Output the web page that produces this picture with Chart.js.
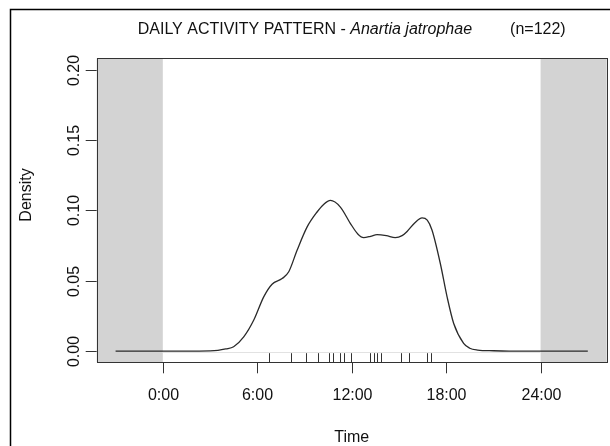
<!DOCTYPE html>
<html>
<head>
<meta charset="utf-8">
<script src="https://cdn.jsdelivr.net/npm/chart.js@4"></script>
<style>
body{margin:0;background:#fff;}
</style>
</head>
<body>
<canvas id="densityChart" width="610" height="446"></canvas>
<script>
// DATA

const curveHours = [-3,0,2,3,3.5,4,4.5,5.14,5.78,6.41,6.94,7.58,8,8.53,9.17,9.8,10.2,10.65,11.28,11.92,12.4,12.76,13.2,13.61,14.2,14.77,15.2,15.52,16,16.47,16.8,17.1,17.63,18.06,18.48,19.11,19.5,20,21,22,27];
const curveDensity = [0,0,0,0.0001,0.0005,0.0015,0.003,0.010,0.022,0.0385,0.0475,0.0515,0.0563,0.0716,0.0882,0.0988,0.104,0.107,0.1023,0.0906,0.083,0.0806,0.0815,0.0827,0.082,0.0806,0.082,0.085,0.091,0.0946,0.093,0.086,0.0622,0.0385,0.0196,0.0055,0.002,0.0007,0.0002,0,0];

const rugHours = [6.73,8.17,9.12,9.84,10.54,10.79,11.24,11.49,11.96,13.19,13.4,13.61,13.86,15.14,15.62,16.79,17.06];

const xTicks = [0,6,12,18,24];
const xTickLabels = ["0:00","6:00","12:00","18:00","24:00"];
const yTicks = [0,0.05,0.1,0.15,0.2];
const yTickLabels = ["0.00","0.05","0.10","0.15","0.20"];

const dayStart = 0;
const dayEnd = 24;

const FONT = '"Liberation Sans", Arial, sans-serif';

// R STYLE FRAME, AXES, RUG

const rStyle = {
id:"rStyle",
beforeDraw(chart){
const c = chart.ctx;
c.save();
c.fillStyle="#fff";
c.fillRect(0,0,chart.width,chart.height);
c.strokeStyle="#000";
c.lineWidth=1.5;
c.beginPath();
c.moveTo(10.5,chart.height);
c.lineTo(10.5,9.5);
c.lineTo(chart.width,9.5);
c.stroke();
c.restore();
},
beforeDatasetsDraw(chart){
const c = chart.ctx;
const a = chart.chartArea;
const x = chart.scales.x;
const y = chart.scales.y;
const x0 = x.getPixelForValue(dayStart);
const x1 = x.getPixelForValue(dayEnd);
c.save();
c.fillStyle="#d3d3d3";
c.fillRect(a.left,a.top,x0-a.left,a.bottom-a.top);
c.fillRect(x1,a.top,a.right-x1,a.bottom-a.top);
// faint zero line
let yz = Math.round(y.getPixelForValue(0))+1.5;
c.strokeStyle="#e2e2e2";
c.lineWidth=1;
c.beginPath();
c.moveTo(x0,yz);
c.lineTo(x1,yz);
c.stroke();
c.restore();
},
afterDatasetsDraw(chart){
const c = chart.ctx;
const a = chart.chartArea;
const x = chart.scales.x;
const y = chart.scales.y;
c.save();
c.strokeStyle="#333";
c.lineWidth=1;

// rug
let rugLen = (a.bottom-a.top)*0.03;
rugHours.forEach(h=>{
let px = Math.round(x.getPixelForValue(h))+0.5;
c.beginPath();
c.moveTo(px,a.bottom);
c.lineTo(px,a.bottom-rugLen);
c.stroke();
});

// box
c.strokeRect(Math.round(a.left)+0.5,Math.round(a.top)+0.5,Math.round(a.right-a.left),Math.round(a.bottom-a.top));

// x ticks
c.fillStyle="#111";
c.font="16px "+FONT;
c.textAlign="center";
c.textBaseline="middle";
xTicks.forEach((v,i)=>{
let px = Math.round(x.getPixelForValue(v))+0.5;
c.beginPath();
c.moveTo(px,a.bottom);
c.lineTo(px,a.bottom+11);
c.stroke();
c.fillText(xTickLabels[i],px,396);
});

// y ticks
yTicks.forEach((v,i)=>{
let py = Math.round(y.getPixelForValue(v))+0.5;
c.beginPath();
c.moveTo(a.left-11,py);
c.lineTo(a.left,py);
c.stroke();
c.save();
c.translate(75,py);
c.rotate(-Math.PI/2);
c.fillText(yTickLabels[i],0,0);
c.restore();
});

// axis titles
c.fillText("Time",(a.left+a.right)/2,438);
c.save();
c.translate(27,195);
c.rotate(-Math.PI/2);
c.fillText("Density",0,0);
c.restore();

// main title
const p1 = "DAILY ACTIVITY PATTERN - ";
const p2 = "Anartia jatrophae";
const p3 = "(n=122)";
const gap = 38;
c.font="16px "+FONT;
let w1 = c.measureText(p1).width;
let w3 = c.measureText(p3).width;
c.font="italic 16px "+FONT;
let w2 = c.measureText(p2).width;
let total = w1+w2+gap+w3;
let tx = (a.left+a.right)/2-total/2;
c.textAlign="left";
c.font="16px "+FONT;
c.fillText(p1,tx,30);
c.font="italic 16px "+FONT;
c.fillText(p2,tx+w1,30);
c.font="16px "+FONT;
c.fillText(p3,tx+w1+w2+gap,30);

c.restore();
}
};

// DENSITY CHART

new Chart(
document.getElementById("densityChart"),
{
type:"line",
data:{
datasets:[{
label:"Density",
data:curveHours.map((h,i)=>({x:h,y:curveDensity[i]})),
borderColor:"#2a2a2a",
borderWidth:1.3,
pointRadius:0,
cubicInterpolationMode:"monotone",
fill:false
}]
},
options:{
responsive:false,
animation:false,
devicePixelRatio:1,
layout:{padding:{left:96.7,top:58.3,right:3.3,bottom:83.7}},
plugins:{legend:{display:false},tooltip:{enabled:false}},
scales:{
x:{type:"linear",min:-4.2,max:28.2,display:false},
y:{type:"linear",min:-0.008,max:0.208,display:false}
}
},
plugins:[rStyle]
}
);
</script>
</body>
</html>
